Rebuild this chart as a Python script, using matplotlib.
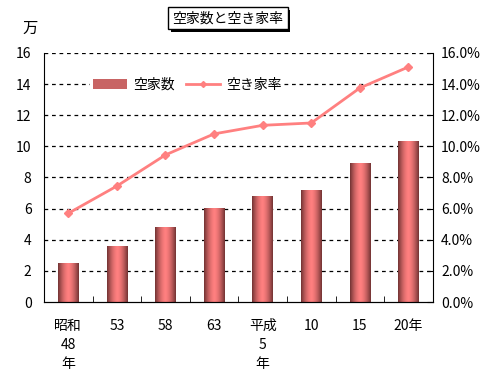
import numpy as np
import matplotlib
matplotlib.use('Agg')
import matplotlib.pyplot as plt
import matplotlib.patheffects as pe
from matplotlib.lines import Line2D
from matplotlib.patches import Patch

plt.rcParams['font.family'] = ['Noto Sans CJK JP', 'DejaVu Sans']

# data
years = ['昭和\n48\n年', '53', '58', '63', '平成\n5\n年', '10', '15', '20年']
vacant = [2.45, 3.55, 4.8, 6.0, 6.75, 7.15, 8.9, 10.3]       # 万戸
rate = [5.7, 7.45, 9.45, 10.8, 11.35, 11.5, 13.75, 15.1]      # %
yticks = [0, 2, 4, 6, 8, 10, 12, 14, 16]

fig = plt.figure(figsize=(4.89, 3.78), dpi=100)
ax = fig.add_axes([0.090, 0.201, 0.795, 0.659])
x = np.arange(len(years))

bars = ax.bar(x, vacant, width=0.42, color='#ff8080', zorder=2)

# gradient fill: dark edges, light pink centre
g = np.linspace(-1, 1, 64)
g = np.abs(g) ** 1.6
dark = np.array([0.45, 0.2, 0.2])
light = np.array([1.0, 0.5, 0.5])
grad = light[None, :] * (1 - g[:, None]) + dark[None, :] * g[:, None]
grad = grad[None, :, :]
for b in bars:
    b.set_facecolor('none')
    ax.imshow(grad, extent=[b.get_x(), b.get_x() + b.get_width(), 0, b.get_height()],
              aspect='auto', zorder=2, interpolation='bilinear')

ax.plot(x, rate, color='#ff8080', lw=2, marker='D', ms=4, zorder=3)

ax.set_xlim(-0.5, len(years) - 0.5)
ax.set_ylim(0, 16)
ax.set_yticks(yticks)
ax.set_yticklabels([str(v) for v in yticks], fontsize=10)
for yv in yticks[1:]:
    ax.axhline(yv, color='black', lw=0.9, ls=(0, (3, 3)), zorder=1)

ax.set_xticks(x)
ax.set_xticklabels(years, fontsize=10, linespacing=1.45, va='top')
ax.set_xticks(np.arange(len(years) + 1) - 0.5, minor=True)
ax.tick_params(axis='x', which='major', length=0, pad=12)
ax.tick_params(axis='x', which='minor', direction='in', length=4)
ax.tick_params(axis='y', direction='in', length=0, pad=9)
ax.spines['top'].set_visible(False)
ax.spines['right'].set_visible(False)

ax2 = ax.twinx()
ax2.set_position(ax.get_position())
ax2.set_ylim(0, 16)
ax2.set_yticks(yticks)
ax2.set_yticklabels([f'{v:.1f}%' for v in yticks], fontsize=10)
ax2.tick_params(axis='y', direction='in', length=4, pad=6)
ax2.spines['top'].set_visible(False)
ax2.spines['left'].set_visible(False)

handles = [Patch(facecolor='#c86464', edgecolor='none'),
           Line2D([], [], color='#ff8080', lw=2, marker='D', ms=3)]
leg = ax.legend(handles, ['空家数', '空き家率'], loc='upper left', ncol=2,
                bbox_to_anchor=(0.1, 0.94), frameon=True, fontsize=10,
                handlelength=2.5, columnspacing=0.8, handletextpad=0.4,
                borderpad=0.2, fancybox=False)
leg.get_frame().set_edgecolor('none')
leg.get_frame().set_facecolor('white')
leg.get_frame().set_alpha(1)

# title box with shadow
title = fig.text(0.466, 0.952, '空家数と空き家率', ha='center', va='center', fontsize=10,
                 bbox=dict(boxstyle='square,pad=0.3', fc='white', ec='black', lw=1))
title.get_bbox_patch().set_path_effects(
    [pe.SimplePatchShadow(offset=(2, -2), shadow_rgbFace='black', alpha=1), pe.Normal()])

fig.text(0.061, 0.925, '万', ha='center', va='center', fontsize=11)

fig.savefig('out.png', dpi=100)
